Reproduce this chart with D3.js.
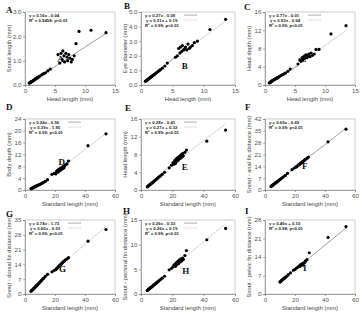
<!DOCTYPE html>
<html>
<head>
<meta charset="utf-8">
<script src="https://cdn.jsdelivr.net/npm/d3@7"></script>
<style>
  body { margin: 0; background: #fff; }
  svg { display: block; font-family: "Liberation Sans", Arial, sans-serif; }
  .tick text { fill: #555; font-size: 6.2px; }
  .domain, .tick line { stroke: #777; stroke-width: 0.6; }
  .frame { fill: none; stroke: #aaa; stroke-width: 0.6; }
  .ttl { fill: #444; font-size: 5.8px; }
  .eq { fill: #222; font-size: 4.3px; font-weight: bold; }
  .letter { font-family: "Liberation Serif", "DejaVu Serif", serif; font-weight: bold; fill: #111; }
</style>
</head>
<body>
<svg width="360" height="333"></svg>
<script>
'use strict';

// ---- data ----
// head length (mm), shared by panels A-C
const headLength = [0.7,0.8,0.9,1.0,1.0,1.1,1.2,1.3,1.4,1.5,1.6,1.7,1.8,1.9,2.0,2.1,2.2,2.3,2.5,2.7,2.9,3.1,3.4,3.8,4.2,
  5.5,5.8,6.0,6.2,6.3,6.5,6.6,6.8,7.0,7.1,7.3,7.5,7.7,7.9,8.2,8.5, 9.0,11.0,13.5];
const snoutLength = [0.08,0.09,0.10,0.12,0.13,0.14,0.15,0.17,0.18,0.20,0.22,0.24,0.26,0.27,0.29,0.30,0.32,0.34,0.37,0.40,0.44,0.47,0.50,0.58,0.65,
  1.25,0.90,1.30,1.05,1.40,1.20,0.95,1.30,1.15,1.00,1.25,1.10,0.95,1.05,1.20,1.70, 2.20,2.25,2.15];
const eyeDiameter = [0.25,0.28,0.31,0.34,0.35,0.38,0.42,0.45,0.48,0.52,0.55,0.58,0.62,0.65,0.68,0.72,0.75,0.78,0.85,0.92,0.98,1.05,1.15,1.30,1.50,
  1.90,2.00,2.50,2.20,2.60,2.30,2.70,2.40,2.50,2.60,2.40,2.80,2.50,2.60,2.70,2.90, 3.00,3.80,4.50];
const headDepth = [0.45,0.55,0.62,0.70,0.75,0.85,0.90,1.00,1.10,1.15,1.25,1.30,1.40,1.45,1.55,1.60,1.70,1.80,1.95,2.10,2.25,2.40,2.60,3.00,3.50,
  4.60,5.50,5.20,6.00,5.50,6.30,5.80,6.60,6.00,6.40,6.80,6.20,7.00,6.50,6.80,7.80, 7.80,11.20,13.00];

// standard length (mm), shared by panels D-H
const stdLength = [4.0,4.3,4.6,5.0,5.3,5.6,6.0,6.3,6.7,7.0,7.4,7.8,8.2,8.7,9.2,9.8,10.4,11.0,11.7,12.5,13.5,15.0,
  18.0,19.5,20.5,21.0,21.5,22.0,22.5,23.0,23.5,24.0,24.5,25.0,25.5,26.0,26.5,27.0,28.0,29.0, 42,54];
const bodyDepth = [0.4,0.5,0.6,0.7,0.75,0.85,0.95,1.0,1.1,1.2,1.3,1.4,1.5,1.6,1.75,1.9,2.0,2.2,2.4,2.6,2.9,3.5,
  5.3,5.6,5.4,6.2,6.6,6.0,7.0,6.5,7.3,6.8,7.6,7.2,8.0,7.5,8.2,8.6,8.8,9.8, 15,19];
const headLengthSL = [0.7,0.8,0.9,1.0,1.1,1.2,1.3,1.4,1.5,1.6,1.7,1.8,1.95,2.1,2.25,2.4,2.6,2.8,3.0,3.2,3.5,4.0,
  5.0,5.6,6.2,5.8,6.6,6.0,7.0,6.5,7.3,6.8,7.6,7.1,7.9,7.4,8.2,7.7,8.5,9.0, 11,13.5];
const snoutAnal = [2.1,2.3,2.5,2.8,3.0,3.2,3.5,3.7,4.0,4.2,4.5,4.7,5.0,5.3,5.7,6.1,6.5,6.9,7.4,8.0,8.6,9.8,
  12.0,13.0,13.5,13.8,14.2,14.5,15.0,15.2,15.6,16.0,16.3,16.8,17.0,17.4,17.8,18.2,18.8,19.5, 28.5,36];
const snoutDorsal = [1.3,1.5,1.7,2.0,2.2,2.4,2.7,2.9,3.2,3.5,3.8,4.0,4.3,4.7,5.0,5.5,6.0,6.4,7.0,7.5,8.3,9.3,
  10.5,11.2,11.5,12.0,12.3,12.8,13.0,13.5,13.8,14.0,14.5,14.8,15.2,15.5,15.8,16.2,16.6,17.2, 25.0,30.5];
const snoutPectoral = [0.7,0.8,0.9,1.0,1.05,1.15,1.25,1.35,1.4,1.5,1.6,1.7,1.85,1.95,2.1,2.25,2.4,2.55,2.75,2.95,3.2,3.6,
  4.9,5.2,5.5,5.8,6.0,5.6,6.3,6.0,6.6,6.2,6.9,6.5,7.1,6.7,7.3,7.0,7.8,8.8, 11.0,13.3];

// panel I has its own specimens
const stdLengthI = [10,10.3,10.7,11,11.4,11.8,12.2,12.7,13.2,13.8,14.5,15.5,17,19,
  20,21,22,22.5,23,23.5,24,24.5,25,25.5,26,26.5,27,28,29.5, 42,54];
const snoutPelvic = [4.5,4.7,4.9,5.1,5.3,5.5,5.7,5.9,6.1,6.4,6.7,7.3,8.0,9.0,
  9.3,9.8,10.2,10.5,10.4,11.0,10.8,11.3,11.5,11.0,11.8,12.0,12.5,13.0,15.6, 21.4,25.5];

// regression fits: [slope, intercept, from, to]
const fitA = [[0.16, -0.04, 0.5, 13.6]];
const fitB = [[0.37, -0.09, 0.6, 5.5], [0.31, 0.19, 4.5, 13.6]];
const fitC = [[0.77, -0.01, 0.6, 5.5], [0.93, -0.64, 4.5, 13.6]];
const fitD = [[0.24, -0.56, 3.5, 16], [0.39, -1.95, 16, 54]];
const fitE = [[0.28, -0.41, 3.5, 16], [0.27, 0.32, 15, 54]];
const fitF = [[0.69, -0.69, 3.5, 54]];
const fitG = [[0.74, -1.73, 3.5, 16], [0.60, -0.53, 15, 54]];
const fitH = [[0.26, -0.33, 3.5, 16], [0.26, 0.19, 15, 54]];
const fitI = [[0.46, 0.10, 9.5, 54]];

const eqA = ["y = 0.16x - 0.04", "R\u00b2 = 0.9458; p<0.01"];
const eqB = ["y = 0.37x - 0.09", "y = 0.31x + 0.19", "R\u00b2 = 0.99; p<0.01"];
const eqC = ["y = 0.77x - 0.01", "y = 0.93x - 0.64", "R\u00b2 = 0.99; p<0.01"];
const eqD = ["y = 0.24x - 0.56", "y = 0.39x - 1.95", "R\u00b2 = 0.99; p<0.01"];
const eqE = ["y = 0.28x - 0.41", "y = 0.27x + 0.32", "R\u00b2 = 0.99; p<0.01"];
const eqF = ["y = 0.69x - 0.69", "R\u00b2 = 0.99; p<0.01"];
const eqG = ["y = 0.74x - 1.73", "y = 0.60x - 0.53", "R\u00b2 = 0.99; p<0.01"];
const eqH = ["y = 0.26x - 0.33", "y = 0.26x + 0.19", "R\u00b2 = 0.99; p<0.01"];
const eqI = ["y = 0.46x + 0.10", "R\u00b2 = 0.98; p<0.01"];

const headTicks = [0, 5, 10, 15];
const slTicks = [0, 20, 40, 60];

const panels = [
  {id: "A", xs: headLength, ys: snoutLength, fit: fitA, eq: eqA, xT: headTicks, yT: [0,1,2,3],
   xl: "Head length (mm)", yl: "Snout length (mm)", mark: [5.9, 0.95]},
  {id: "B", xs: headLength, ys: eyeDiameter, fit: fitB, eq: eqB, xT: headTicks, yT: [0,1,2,3,4,5],
   xl: "Head length (mm)", yl: "Eye diameter (mm)", mark: [7.0, 1.1]},
  {id: "C", xs: headLength, ys: headDepth, fit: fitC, eq: eqC, xT: headTicks, yT: [0,4,8,12,16],
   xl: "Head length (mm)", yl: "Head depth (mm)", mark: [6.4, 5.0]},
  {id: "D", xs: stdLength, ys: bodyDepth, fit: fitD, eq: eqD, xT: slTicks, yT: [0,4,8,12,16,20,24],
   xl: "Standard length (mm)", yl: "Body depth (mm)", mark: [24.5, 8.6]},
  {id: "E", xs: stdLength, ys: headLengthSL, fit: fitE, eq: eqE, xT: slTicks, yT: [0,4,8,12,16],
   xl: "Standard length (mm)", yl: "Head length (mm)", mark: [28, 4.6]},
  {id: "F", xs: stdLength, ys: snoutAnal, fit: fitF, eq: eqF, xT: slTicks, yT: [0,7,14,21,28,35,42],
   xl: "Standard length (mm)", yl: "Snout - anal fin distance (mm)", mark: [26.5, 12.5]},
  {id: "G", xs: stdLength, ys: snoutDorsal, fit: fitG, eq: eqG, xT: slTicks, yT: [0,7,14,21,28,35],
   xl: "Standard length (mm)", yl: "Snout - dorsal fin distance (mm)", mark: [25, 10.2]},
  {id: "H", xs: stdLength, ys: snoutPectoral, fit: fitH, eq: eqH, xT: slTicks, yT: [0,5,10,15],
   xl: "Standard length (mm)", yl: "Snout - pectoral fin distance (mm)", mark: [28.5, 4.0]},
  {id: "I", xs: stdLengthI, ys: snoutPelvic, fit: fitI, eq: eqI, xT: slTicks, yT: [0,7,14,21,28],
   xl: "Standard length (mm)", yl: "Snout - pelvic fin distance (mm)", mark: [26.5, 8.6]}
];

// layout (pixels)
const colX = [0, 120, 240];
const colLeft = [25, 21, 25];
const rowTop = [12, 119, 220];
const rowBottom = [85, 190, 294];
const letterPos = [[6,13],[124,9],[244,10],[6,110],[125,111],[245,110],[6,217],[123,214],[245,214]];

const svg = d3.select("svg");

panels.forEach((p, i) => {
  const col = i % 3, row = Math.floor(i / 3);
  const left = colX[col] + colLeft[col];
  const right = colX[col] + 115;
  const top = rowTop[row], bottom = rowBottom[row];
  const xMax = p.xT[p.xT.length - 1], yMax = p.yT[p.yT.length - 1];

  const x = d3.scaleLinear().domain([0, xMax]).range([left, right]);
  const y = d3.scaleLinear().domain([0, yMax]).range([bottom, top]);
  const g = svg.append("g");

  g.append("rect").attr("class", "frame")
    .attr("x", left).attr("y", top).attr("width", right - left).attr("height", bottom - top);

  g.append("g").attr("transform", `translate(0,${bottom})`)
    .call(d3.axisBottom(x).tickValues(p.xT).tickSize(2).tickPadding(1.5));
  g.append("g").attr("transform", `translate(${left},0)`)
    .call(d3.axisLeft(y).tickValues(p.yT).tickSize(2).tickPadding(1.5));

  g.append("text").attr("class", "ttl")
    .attr("x", (left + right) / 2).attr("y", bottom + 15.5)
    .attr("text-anchor", "middle").text(p.xl);
  g.append("text").attr("class", "ttl")
    .attr("transform", `translate(${left - 14},${(top + bottom) / 2}) rotate(-90)`)
    .attr("text-anchor", "middle").text(p.yl);

  // fitted lines
  p.fit.forEach(([a, b, x0, x1], k) => {
    g.append("line")
      .attr("x1", x(x0)).attr("y1", y(a * x0 + b))
      .attr("x2", x(x1)).attr("y2", y(a * x1 + b))
      .attr("stroke", k === 0 ? "#777" : "#999")
      .attr("stroke-width", 0.7)
      .attr("stroke-dasharray", k === 0 ? null : "1.2,0.8");
  });

  // specimens
  g.append("g").selectAll("circle")
    .data(p.xs.map((v, j) => [v, p.ys[j]]))
    .enter().append("circle")
    .attr("cx", d => x(d[0])).attr("cy", d => y(d[1]))
    .attr("r", 1.6).attr("fill", "#000");

  // legend
  p.eq.forEach((t, k) => {
    const ty = top + 4.5 + k * 5;
    g.append("text").attr("class", "eq")
      .attr("x", left + 4 + (k === 1 && p.eq.length === 3 ? 1 : 0)).attr("y", ty).text(t);
    if (p.eq.length === 3 && k < 2) {
      g.append("line")
        .attr("x1", left + 43).attr("x2", left + 56)
        .attr("y1", ty - 1.4).attr("y2", ty - 1.4)
        .attr("stroke", k === 0 ? "#777" : "#aaa").attr("stroke-width", 0.6)
        .attr("stroke-dasharray", k === 0 ? null : "1,0.7");
    }
  });

  // letter inside the cluster
  g.append("text").attr("class", "letter")
    .attr("x", x(p.mark[0])).attr("y", y(p.mark[1]))
    .attr("text-anchor", "middle").attr("font-size", 9).text(p.id);

  // panel letter
  svg.append("text").attr("class", "letter")
    .attr("x", letterPos[i][0]).attr("y", letterPos[i][1])
    .attr("font-size", 9).text(p.id);
});
</script>
</body>
</html>
